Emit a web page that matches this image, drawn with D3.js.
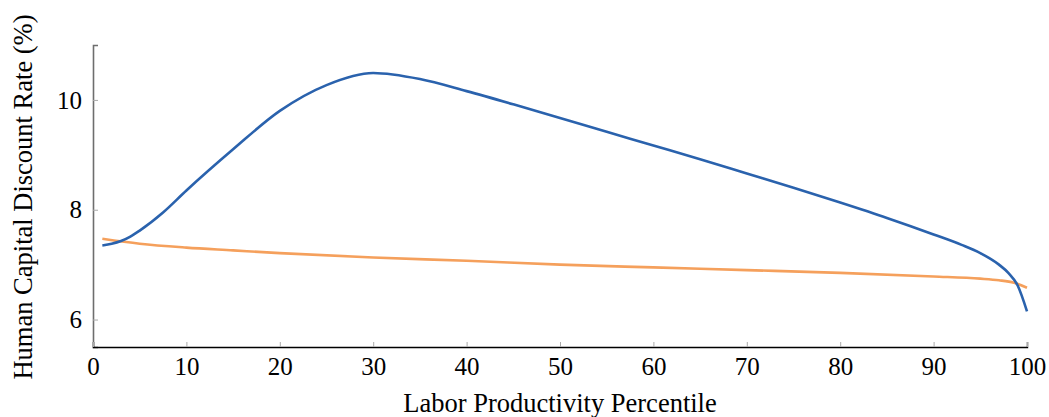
<!DOCTYPE html>
<html>
<head>
<meta charset="utf-8">
<script src="https://cdn.jsdelivr.net/npm/d3@7"></script>
<style>
  body { margin: 0; background: #fff; }
  text { font-family: "Liberation Serif", "Times New Roman", serif; fill: #000; }
</style>
</head>
<body>
<script>
// percentile grid for each series
var blue_x = [1, 2, 3, 4, 5, 7.5, 10, 15, 20, 25, 30, 35, 40, 45, 50, 55, 60, 65, 70, 75, 80, 85, 90, 93, 95, 97, 98, 99, 100]
var blue_y = [7.35, 7.38, 7.43, 7.51, 7.62, 7.95, 8.35, 9.1, 9.8, 10.27, 10.49, 10.38, 10.16, 9.92, 9.67, 9.42, 9.17, 8.92, 8.66, 8.40, 8.13, 7.85, 7.55, 7.36, 7.21, 7.0, 6.85, 6.62, 6.15]

var orange_x = [1, 5, 10, 15, 20, 30, 40, 50, 60, 70, 80, 90, 95, 97, 98.6, 100]
var orange_y = [7.47, 7.38, 7.31, 7.26, 7.21, 7.13, 7.07, 7.00, 6.95, 6.90, 6.85, 6.785, 6.745, 6.715, 6.67, 6.58]

var x_ticks = [0, 10, 20, 30, 40, 50, 60, 70, 80, 90, 100]
var y_ticks = [6, 8, 10]

var width = 1049, height = 417
var m_left = 93, m_right = 1027, m_top = 45, m_bottom = 347

var svg = d3.select('body').append('svg').attr('width', width).attr('height', height)

var x = d3.scaleLinear().domain([0, 100]).range([m_left, m_right])
var y = d3.scaleLinear().domain([5.5, 11]).range([m_bottom, m_top])

// y axis (grey, ticks pointing inward)
var yAxis = svg.append('g').attr('transform', 'translate(' + m_left + ',0)')
    .call(d3.axisRight(y).tickValues(y_ticks).tickSize(5).tickFormat(d3.format('d')))
yAxis.select('.domain').attr('stroke', '#6e6e6e').attr('stroke-width', 1.6)
yAxis.selectAll('.tick line').attr('stroke', '#aaa').attr('stroke-width', 1)
yAxis.selectAll('.tick text').attr('x', -11).attr('text-anchor', 'end')
    .attr('font-size', 25).attr('dy', '0.33em')

// x axis (black, ticks pointing up)
var xAxis = svg.append('g').attr('transform', 'translate(0,' + m_bottom + ')')
    .call(d3.axisTop(x).tickValues(x_ticks).tickSize(5).tickFormat(d3.format('d')))
xAxis.select('.domain').attr('stroke', '#000').attr('stroke-width', 1.4)
xAxis.selectAll('.tick line').attr('stroke', '#aaa').attr('stroke-width', 1)
xAxis.selectAll('.tick text').attr('y', 28).attr('dy', 0)
    .attr('font-size', 25)
svg.selectAll('.domain').attr('fill', 'none')

var line = d3.line().x(d => x(d[0])).y(d => y(d[1])).curve(d3.curveMonotoneX)

svg.append('path').datum(orange_x.map((v, i) => [v, orange_y[i]]))
    .attr('d', line).attr('fill', 'none')
    .attr('stroke', '#f5a05c').attr('stroke-width', 2.6)

svg.append('path').datum(blue_x.map((v, i) => [v, blue_y[i]]))
    .attr('d', line).attr('fill', 'none')
    .attr('stroke', '#2a62ad').attr('stroke-width', 2.6)

// axis titles
svg.append('text').attr('x', (m_left + m_right) / 2).attr('y', 412)
    .attr('text-anchor', 'middle').attr('font-size', 26.5)
    .text('Labor Productivity Percentile')

svg.append('text')
    .attr('transform', 'translate(32,197) rotate(-90)')
    .attr('text-anchor', 'middle').attr('font-size', 26.5)
    .text('Human Capital Discount Rate (%)')
</script>
</body>
</html>
